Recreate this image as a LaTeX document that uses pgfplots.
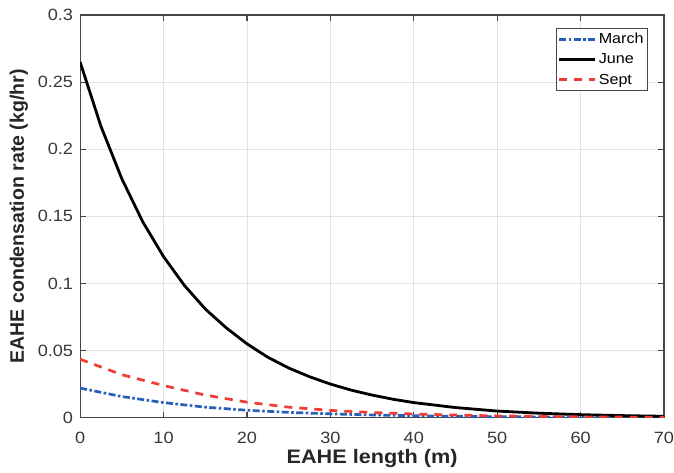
\documentclass[border=0pt]{standalone}
\usepackage{pgfplots}
\pgfplotsset{compat=1.18}
\usepackage{fontspec}
\setmainfont[FakeStretch=1.11]{Liberation Sans}
\newfontfamily\ylfont{Liberation Sans}
\definecolor{mblue}{RGB}{40,96,185}
\definecolor{mred}{RGB}{240,60,50}
\definecolor{gridc}{RGB}{222,226,230}
\definecolor{axc}{RGB}{70,70,70}
\begin{document}
\begin{tikzpicture}
\begin{axis}[
  name=ax,
  scale only axis, width=583pt, height=402pt,
  xmin=0, xmax=70, ymin=0, ymax=0.3,
  xtick={0,10,...,70}, ytick={0,0.05,...,0.3},
  yticklabels={0,0.05,0.1,0.15,0.2,0.25,0.3},
  grid=major, major grid style={gridc, line width=0.8pt},
  axis line style={axc, line width=1.2pt},
  tick style={axc, line width=1.2pt}, tick align=inside,
  major tick length=6pt,
  tick label style={font=\fontsize{16.3}{17}\selectfont, text=black!78},
  xticklabel style={yshift=-11pt},
  yticklabel style={xshift=-3.5pt},
  /pgf/number format/assume math mode=true,
  xlabel={EAHE length (m)},
  ylabel={EAHE condensation rate (kg/hr)},
  xlabel style={font=\fontsize{19.5}{20}\selectfont\bfseries, text=black!85,
    at={(axis description cs:0.5,-0.1144)}, anchor=base},
  ylabel style={font=\ylfont\fontsize{19.5}{20}\selectfont\bfseries, text=black!85,
    at={(axis description cs:-0.0962,0.5)}, anchor=base},
  legend style={at={(0.9726,0.9677)}, anchor=north east, draw=axc, line width=0.8pt,
    font=\fontsize{14.5}{15}\selectfont, row sep=6.5pt, inner xsep=2pt, inner ysep=4pt,
    nodes={inner ysep=1pt}},
  legend cell align=left,
  legend image code/.code={\draw[#1] (0pt,0pt) -- (36pt,0pt);},
]
\addplot[mblue, line width=2.7pt, dash pattern=on 7pt off 2.5pt on 2.5pt off 2.5pt] coordinates {
(0,0.022) (5,0.0157) (10,0.0112) (15,0.0078) (20,0.0055) (25,0.0039) (30,0.0028)
(35,0.0020) (40,0.0014) (45,0.0010) (50,0.0007) (55,0.0005) (60,0.0004) (65,0.0003) (70,0.0002)};
\addlegendentry{March}
\addplot[black, line width=2.8pt] coordinates {
(0,0.265) (2.5,0.217) (5,0.178) (7.5,0.146) (10,0.120) (12.5,0.0985) (15,0.081)
(17.5,0.067) (20,0.055) (22.5,0.045) (25,0.037) (27.5,0.0305) (30,0.025)
(32.5,0.0205) (35,0.0168) (37.5,0.0137) (40,0.0112) (45,0.0075) (50,0.0049)
(55,0.0033) (60,0.0022) (65,0.0015) (70,0.0010)};
\addlegendentry{June}
\addplot[mred, line width=2.7pt, dash pattern=on 8pt off 7pt] coordinates {
(0,0.0435) (5,0.032) (10,0.0239) (15,0.0168) (20,0.0115) (25,0.0078) (30,0.0054)
(35,0.0038) (40,0.0027) (45,0.0019) (50,0.0013) (55,0.0009) (60,0.0006) (65,0.0004) (70,0.0003)};
\addlegendentry{Sept}
\end{axis}
\pgfresetboundingbox
\path[use as bounding box] ([shift={(-80pt,-55pt)}]ax.south west) rectangle ([shift={(10pt,15pt)}]ax.north east);
\end{tikzpicture}
\end{document}
